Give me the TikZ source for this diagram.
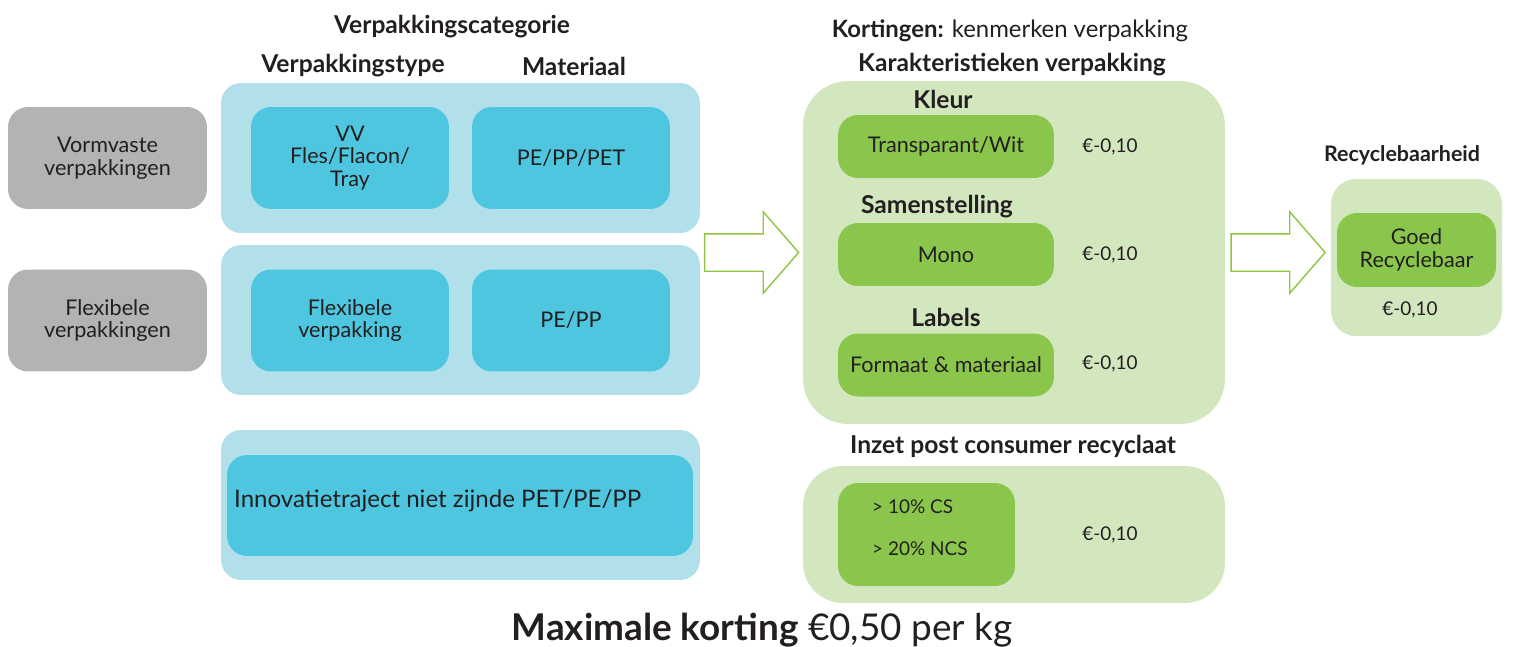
\documentclass[tikz,border=0pt]{standalone}
\usepackage{fontspec}
\setmainfont{Lato}
\usepackage{tikz}
\usetikzlibrary{calc,positioning,shapes.arrows}

\definecolor{grijs}{HTML}{B1B3B4}
\definecolor{lichtblauw}{HTML}{B2E0EA}
\definecolor{blauw}{HTML}{4EC6E0}
\definecolor{lichtgroen}{HTML}{D3E7BF}
\definecolor{groen}{HTML}{8AC64C}
\definecolor{pijlgroen}{HTML}{8DC63F}
\definecolor{tekst}{HTML}{231F20}

\begin{document}
\begin{tikzpicture}[
			x=0.02cm, y=-0.02cm,
			every node/.style={text=tekst, font=\fontsize{12.3}{13}\selectfont},
			titel/.style={font=\bfseries\fontsize{14}{16}\selectfont},
			prijs/.style={font=\fontsize{10.8}{13}\selectfont},
			soort/.style={rectangle, rounded corners=0.4cm, fill=grijs, align=center, minimum width=3.98cm, minimum height=2.04cm},
			groep/.style={rectangle, rounded corners=0.4cm, fill=lichtblauw, minimum width=9.58cm, minimum height=3cm},
			vak/.style={rectangle, rounded corners=0.4cm, fill=blauw, align=center, minimum width=3.96cm, minimum height=2.04cm},
			kenmerk/.style={rectangle, rounded corners=0.4cm, fill=groen, align=center, minimum width=4.32cm, minimum height=1.26cm},
			pijl/.style={single arrow, draw=pijlgroen, fill=white, line width=0.8pt, minimum height=1.88cm, inner sep=0.36cm, single arrow head extend=0.44cm, single arrow tip angle=98, xshift=-0.16cm}
			]
			\useasboundingbox (0,0) rectangle (1521,646);

			% Verpakkingscategorie
			\node[titel] (tcat) at (452,27) {Verpakkingscategorie};
			\node[titel] (ttype) at (353,66) {Verpakkingstype};
			\node[titel] (tmat) at (574,66) {Materiaal};

			\node[soort] (VV) at (107.5,158) {Vormvaste\\verpakkingen};
			\node[soort] (FV) at (107.5,320.5) {Flexibele\\verpakkingen};

			\node[groep] (GA) at (460.5,158) {};
			\node[groep] (GB) at (460.5,320) {};
			\node[groep] (GC) at (460.5,505) {};

			\node[vak] (TA) at (350,158) {VV\\Fles/Flacon/\\Tray};
			\node[vak] (MA) at (571,158) {PE/PP/PET};
			\node[vak] (TB) at (350,320.5) {Flexibele\\verpakking};
			\node[vak] (MB) at (571,320.5) {PE/PP};
			\node[vak, minimum width=9.32cm, minimum height=2.02cm] (IN) at (460,505.5) {};
			\node[anchor=west, font=\fontsize{13.7}{16}\selectfont] (INt) at (228,501) {Innovatietraject niet zijnde PET/PE/PP};

			% Kortingen
			\node[font=\fontsize{13.6}{16}\selectfont] (tkort) at (1010,31) {\textbf{Kortingen:} kenmerken verpakking};
			\node[titel] (tkar) at (1012,65) {Karakteristieken verpakking};
			\node[rectangle, rounded corners=0.9cm, fill=lichtgroen, minimum width=8.44cm, minimum height=6.86cm] (K) at (1014,252.5) {};

			\node[titel] (tkl) at (943,99) {Kleur};
			\node[kenmerk] (KL) at (946,146.5) {Transparant/Wit};
			\node[prijs] (pKL) at (1110,147) {€-0,10};

			\node[titel] (tsa) at (937,207) {Samenstelling};
			\node[kenmerk] (SA) at (946,254.5) {Mono};
			\node[prijs] (pSA) at (1110,255) {€-0,10};

			\node[titel] (tla) at (946,317) {Labels};
			\node[kenmerk] (LA) at (946,365) {Formaat \& materiaal};
			\node[prijs] (pLA) at (1110,364) {€-0,10};

			\node[titel] (tpcr) at (1013,446) {Inzet post consumer recyclaat};
			\node[rectangle, rounded corners=0.8cm, fill=lichtgroen, minimum width=8.44cm, minimum height=2.74cm] (P) at (1014,534.5) {};
			\node[kenmerk, minimum width=3.54cm, minimum height=2.06cm] (PC) at (926.5,534.5) {};
			\node[anchor=west, prijs] (cs) at (866,507) {> 10\% CS};
			\node[anchor=west, prijs] (ncs) at (866,549) {> 20\% NCS};
			\node[prijs] (pPC) at (1110,535) {€-0,10};

			% Recyclebaarheid
			\node[titel, font=\bfseries\fontsize{12.2}{15}\selectfont] (trec) at (1402,155) {Recyclebaarheid};
			\node[rectangle, rounded corners=0.5cm, fill=lichtgroen, minimum width=3.42cm, minimum height=3.14cm] (R) at (1416.5,257.5) {};
			\node[kenmerk, minimum width=3.18cm, minimum height=1.48cm] (GR) at (1416.5,250) {Goed\\Recyclebaar};
			\node[prijs] (pR) at (1410,310) {€-0,10};

			% Pijlen
			\node[pijl] (p1) at ($(GA.east |- K.west)!0.5!(K.west)$) {};
			\node[pijl] (p2) at ($(K.east)!0.5!(R.west |- K.east)$) {};

			% Maximale korting
			\node[font=\fontsize{21}{24}\selectfont] (max) at (762,630) {\textbf{Maximale korting} €0,50 per kg};
		\end{tikzpicture}
\end{document}
